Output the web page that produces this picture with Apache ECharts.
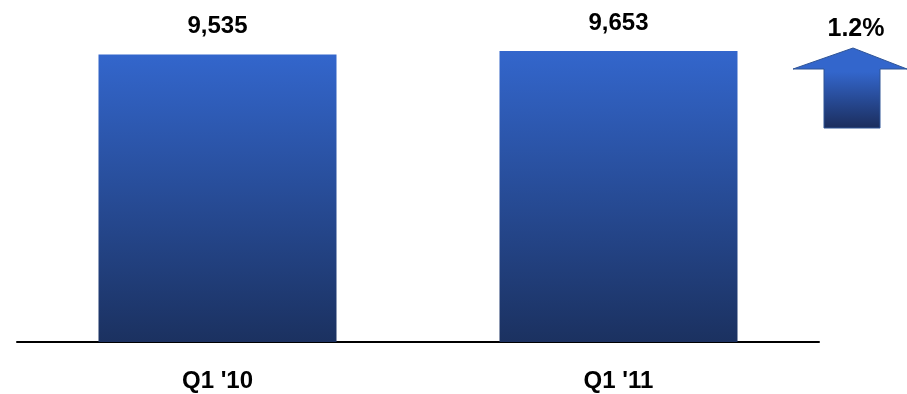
<!DOCTYPE html>
<html>
<head>
<meta charset="utf-8">
<script src="https://cdn.jsdelivr.net/npm/echarts@6/dist/echarts.min.js"></script>
<style>html,body{margin:0;padding:0;background:#fff;}#c{width:907px;height:394px;}</style>
</head>
<body>
<div id="c"></div>
<script>
const categories = ["Q1 '10", "Q1 '11"];
const values = [9535, 9653];
const changeLabel = "1.2%";

const barGradient = new echarts.graphic.LinearGradient(0, 0, 0, 1, [
  { offset: 0, color: '#3366CC' },
  { offset: 1, color: '#1B3160' }
]);
const arrowGradient = new echarts.graphic.LinearGradient(0, 0, 0, 1, [
  { offset: 0, color: '#3366CC' },
  { offset: 0.3, color: '#3366CC' },
  { offset: 1, color: '#1B2D5C' }
]);

const chart = echarts.init(document.getElementById('c'), null, { renderer: 'canvas' });
chart.setOption({
  animation: false,
  backgroundColor: '#ffffff',
  grid: { left: 17, right: 88, top: 40.5, bottom: 52, containLabel: false },
  xAxis: {
    type: 'category',
    data: categories,
    axisLine: { show: true, lineStyle: { color: '#000', width: 2 } },
    axisTick: { show: false },
    axisLabel: {
      margin: 27,
      fontFamily: 'Liberation Sans, Arial, sans-serif',
      fontWeight: 'bold',
      fontSize: 24,
      color: '#000'
    }
  },
  yAxis: {
    type: 'value',
    min: 0,
    max: 10000,
    show: false,
    splitLine: { show: false }
  },
  series: [{
    type: 'bar',
    data: values,
    barWidth: 238,
    itemStyle: { color: barGradient },
    label: {
      show: true,
      position: 'top',
      distance: 16,
      formatter: p => p.value.toLocaleString('en-US'),
      fontFamily: 'Liberation Sans, Arial, sans-serif',
      fontWeight: 'bold',
      fontSize: 24,
      color: '#000'
    }
  }],
  graphic: [
    {
      type: 'polygon',
      shape: {
        points: [[853, 48], [907, 69], [880, 69], [880, 128], [824, 128], [824, 69], [793, 69]]
      },
      style: { fill: arrowGradient, stroke: '#2F5496', lineWidth: 1 }
    },
    {
      type: 'text',
      style: {
        text: changeLabel,
        x: 856,
        y: 29,
        align: 'center',
        verticalAlign: 'middle',
        font: 'bold 25px "Liberation Sans", Arial, sans-serif',
        fill: '#000'
      }
    }
  ]
});
</script>
</body>
</html>
